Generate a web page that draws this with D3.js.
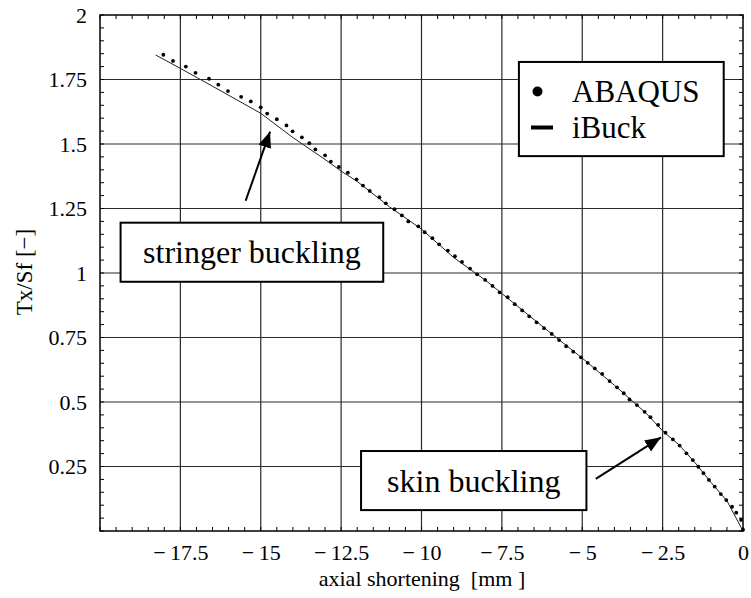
<!DOCTYPE html>
<html>
<head>
<meta charset="utf-8">
<script src="https://cdn.jsdelivr.net/npm/d3@7"></script>
<style>
  html, body { margin: 0; padding: 0; background: #fff; }
  svg { display: block; }
  text { font-family: "Liberation Serif", "Times New Roman", serif; fill: #000; }
</style>
</head>
<body>
<svg id="chart" width="751" height="598"></svg>
<script>
// ---- data ----
const abaqusX = [-18.03,-17.73,-17.33,-17.03,-16.61,-16.32,-16.02,-15.61,-15.31,-15.00,-14.80,-14.50,-14.20,-14.01,-13.72,-13.49,-13.30,-13.00,-12.82,-12.57,-12.29,-12.02,-11.82,-11.61,-11.31,-11.11,-10.84,-10.61,-10.41,-10.10,-9.90,-9.66,-9.45,-9.18,-8.96,-8.74,-8.49,-8.27,-8.02,-7.79,-7.57,-7.32,-7.10,-6.87,-6.65,-6.42,-6.19,-5.95,-5.72,-5.50,-5.28,-5.04,-4.83,-4.61,-4.38,-4.15,-3.92,-3.71,-3.53,-3.30,-3.06,-2.88,-2.64,-2.41,-2.18,-1.97,-1.76,-1.56,-1.39,-1.23,-1.06,-0.88,-0.69,-0.52,-0.34,-0.21,-0.06,0];
const abaqusY = [1.846,1.822,1.800,1.776,1.753,1.730,1.705,1.683,1.665,1.642,1.618,1.596,1.572,1.549,1.526,1.503,1.479,1.456,1.432,1.411,1.389,1.363,1.339,1.318,1.294,1.270,1.247,1.223,1.200,1.181,1.158,1.135,1.111,1.087,1.065,1.043,1.017,0.995,0.973,0.950,0.925,0.906,0.879,0.855,0.832,0.809,0.786,0.764,0.740,0.716,0.695,0.673,0.652,0.630,0.609,0.581,0.557,0.534,0.510,0.488,0.462,0.441,0.411,0.381,0.355,0.331,0.301,0.275,0.249,0.224,0.198,0.172,0.143,0.120,0.094,0.071,0.043,0.005];
const ibuckX = [-18.27,-17.5,-16.5,-15.0,-14.0,-13.0,-12.5,-12.0,-11.0,-10.0,-9.0,-8.0,-7.0,-6.0,-5.0,-4.0,-3.0,-2.5,-2.0,-1.5,-1.0,-0.5,0];
const ibuckY = [1.845,1.793,1.724,1.619,1.525,1.440,1.395,1.355,1.257,1.170,1.060,0.971,0.870,0.769,0.670,0.565,0.455,0.388,0.335,0.266,0.189,0.117,0];
const xTickValues = [-17.5,-15,-12.5,-10,-7.5,-5,-2.5,0];
const xTickLabels = ["\u2212\u200917.5","\u2212\u200915","\u2212\u200912.5","\u2212\u200910","\u2212\u20097.5","\u2212\u20095","\u2212\u20092.5","0"];
const yTickValues = [0.25,0.5,0.75,1,1.25,1.5,1.75,2];
const yTickLabels = ["0.25","0.5","0.75","1","1.25","1.5","1.75","2"];
const seriesNames = ["ABAQUS","iBuck"];
const xTitle = "axial shortening\u00a0 [mm ]";
const yTitle = "Tx/Sf [\u2212]";
const annotationTexts = ["stringer buckling","skin buckling"];

// ---- layout ----
const svg = d3.select("#chart");
const x = d3.scaleLinear().domain([-20, 0]).range([100, 743]);
const y = d3.scaleLinear().domain([0, 2]).range([531, 15]);
const L = 100, R = 743, T = 15, B = 531;

// grid
const g = svg.append("g");
g.selectAll(".vg").data(xTickValues.filter(d => d > -20 && d < 0)).enter().append("line")
  .attr("x1", d => x(d)).attr("x2", d => x(d)).attr("y1", T).attr("y2", B)
  .attr("stroke", "#2a2a2a").attr("stroke-width", 1.2);
g.selectAll(".hg").data(yTickValues.filter(d => d > 0 && d < 2)).enter().append("line")
  .attr("y1", d => y(d)).attr("y2", d => y(d)).attr("x1", L).attr("x2", R)
  .attr("stroke", "#2a2a2a").attr("stroke-width", 1.2);

// minor ticks on all four sides (inside)
const xMinor = d3.range(-20, 0.0001, 0.5);
const yMinor = d3.range(0, 2.0001, 0.05);
const tl = 4;
const ticks = svg.append("g").attr("stroke", "#000").attr("stroke-width", 1);
ticks.selectAll(".tb").data(xMinor).enter().append("line")
  .attr("x1", d => x(d)).attr("x2", d => x(d)).attr("y1", B).attr("y2", B - tl);
ticks.selectAll(".tt").data(xMinor).enter().append("line")
  .attr("x1", d => x(d)).attr("x2", d => x(d)).attr("y1", T).attr("y2", T + tl);
ticks.selectAll(".tlft").data(yMinor).enter().append("line")
  .attr("y1", d => y(d)).attr("y2", d => y(d)).attr("x1", L).attr("x2", L + tl);
ticks.selectAll(".trgt").data(yMinor).enter().append("line")
  .attr("y1", d => y(d)).attr("y2", d => y(d)).attr("x1", R).attr("x2", R - tl);

// frame
svg.append("rect").attr("x", L).attr("y", T).attr("width", R - L).attr("height", B - T)
  .attr("fill", "none").attr("stroke", "#000").attr("stroke-width", 1.5);

// axes labels via d3 axes
const xAxis = d3.axisBottom(x).tickValues(xTickValues).tickSize(0).tickPadding(13)
  .tickFormat((d, i) => xTickLabels[i]);
const xa = svg.append("g").attr("transform", `translate(0,${B})`).call(xAxis);
xa.select(".domain").remove();
xa.selectAll("text").attr("font-family", "Liberation Serif").attr("font-size", 22).attr("fill", "#000");

const yAxis = d3.axisLeft(y).tickValues(yTickValues).tickSize(0).tickPadding(13)
  .tickFormat((d, i) => yTickLabels[i]);
const ya = svg.append("g").attr("transform", `translate(${L},0)`).call(yAxis);
ya.select(".domain").remove();
ya.selectAll("text").attr("font-family", "Liberation Serif").attr("font-size", 22).attr("fill", "#000");

// axis titles
svg.append("text").attr("x", 422).attr("y", 586).attr("text-anchor", "middle")
  .attr("font-size", 22).text(xTitle);
svg.append("text").attr("transform", "translate(32,272) rotate(-90)").attr("text-anchor", "middle")
  .attr("font-size", 23).text(yTitle);

// iBuck line
const ibuck = ibuckX.map((d, i) => [d, ibuckY[i]]);
svg.append("path").datum(ibuck)
  .attr("d", d3.line().x(d => x(d[0])).y(d => y(d[1])))
  .attr("fill", "none").attr("stroke", "#222").attr("stroke-width", 1);

// ABAQUS dots
const abaqus = abaqusX.map((d, i) => [d, abaqusY[i]]);
svg.append("g").selectAll("circle").data(abaqus).enter().append("circle")
  .attr("cx", d => x(d[0])).attr("cy", d => y(d[1])).attr("r", 1.9).attr("fill", "#000");

// legend
const lg = svg.append("g");
lg.append("rect").attr("x", x(-6.97)).attr("y", y(1.818))
  .attr("width", x(-0.60) - x(-6.97)).attr("height", y(1.453) - y(1.818))
  .attr("fill", "#fff").attr("stroke", "#000").attr("stroke-width", 2);
lg.append("circle").attr("cx", 537.5).attr("cy", 91.5).attr("r", 5).attr("fill", "#000");
lg.append("line").attr("x1", 531).attr("x2", 553).attr("y1", 127.5).attr("y2", 127.5)
  .attr("stroke", "#000").attr("stroke-width", 4);
lg.append("text").attr("x", 572).attr("y", 102).attr("font-size", 31).text(seriesNames[0]);
lg.append("text").attr("x", 572).attr("y", 138).attr("font-size", 31).text(seriesNames[1]);

// annotations
const defs = svg.append("defs");
defs.append("marker").attr("id", "ah").attr("markerUnits", "userSpaceOnUse")
  .attr("markerWidth", 18).attr("markerHeight", 14).attr("refX", 16).attr("refY", 6.5)
  .attr("orient", "auto")
  .append("path").attr("d", "M0,0 L16,6.5 L0,13 Z").attr("fill", "#000");

function annot(box, txt, tail, tip) {
  svg.append("rect").attr("x", x(box[0])).attr("y", y(box[1]))
    .attr("width", x(box[2]) - x(box[0])).attr("height", y(box[3]) - y(box[1]))
    .attr("fill", "#fff").attr("stroke", "#000").attr("stroke-width", 2);
  svg.append("text").attr("x", (x(box[0]) + x(box[2])) / 2).attr("y", (y(box[1]) + y(box[3])) / 2 + 11)
    .attr("text-anchor", "middle").attr("font-size", 32).text(txt);
  svg.append("line").attr("x1", x(tail[0])).attr("y1", y(tail[1]))
    .attr("x2", x(tip[0])).attr("y2", y(tip[1]))
    .attr("stroke", "#000").attr("stroke-width", 2).attr("marker-end", "url(#ah)");
}
annot([-19.36, 1.195, -11.19, 0.966], annotationTexts[0], [-15.47, 1.280], [-14.71, 1.548]);
annot([-11.88, 0.310, -4.87, 0.081], annotationTexts[1], [-4.58, 0.202], [-2.55, 0.363]);
</script>
</body>
</html>
